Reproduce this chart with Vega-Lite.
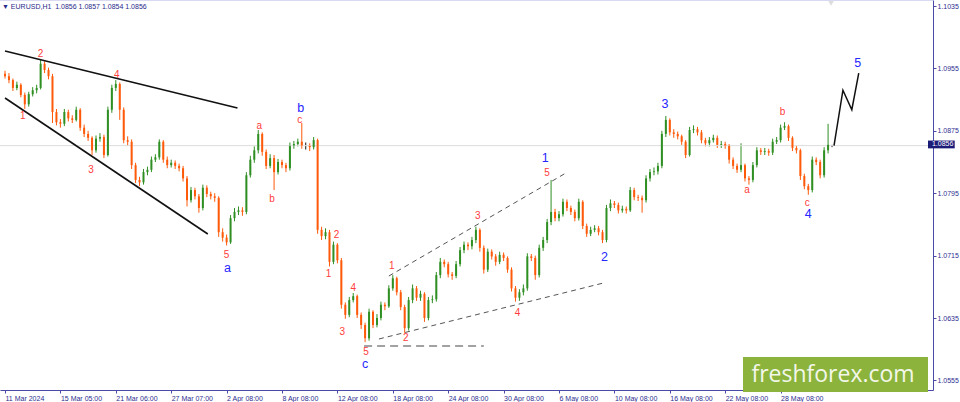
{
  "$schema": "https://vega.github.io/schema/vega-lite/v6.json",
  "width": 933,
  "height": 390,
  "autosize": "none",
  "padding": {"left": 0, "top": 0, "right": 27, "bottom": 12},
  "background": "white",
  "config": {"view": {"stroke": null}, "axis": {"title": null, "grid": false}},
  "title": {
    "text": "▼ EURUSD,H1\u00a0 1.0856 1.0857 1.0854 1.0856",
    "anchor": "start", "frame": "group", "orient": "top", "offset": -10, "dx": 2,
    "font": "Liberation Sans", "fontSize": 7, "fontWeight": "normal", "color": "#2a2a8a"
  },
  "datasets": {
    "candles": [
      {"t":0,"o":1.0948,"h":1.0952,"l":1.0942,"c":1.0945},
      {"t":4,"o":1.0945,"h":1.0949,"l":1.0936,"c":1.0940},
      {"t":8,"o":1.0940,"h":1.0942,"l":1.0926,"c":1.0930},
      {"t":12,"o":1.0930,"h":1.0938,"l":1.0927,"c":1.0934},
      {"t":16,"o":1.0934,"h":1.0936,"l":1.0918,"c":1.0921},
      {"t":20,"o":1.0921,"h":1.0924,"l":1.0903,"c":1.0909},
      {"t":24,"o":1.0909,"h":1.0925,"l":1.0906,"c":1.0922},
      {"t":28,"o":1.0922,"h":1.0931,"l":1.0919,"c":1.0927},
      {"t":32,"o":1.0927,"h":1.0934,"l":1.0923,"c":1.0930},
      {"t":36,"o":1.0930,"h":1.0966,"l":1.0928,"c":1.0961},
      {"t":40,"o":1.0961,"h":1.0964,"l":1.0949,"c":1.0953},
      {"t":44,"o":1.0953,"h":1.0956,"l":1.0941,"c":1.0945},
      {"t":48,"o":1.0945,"h":1.0948,"l":1.0885,"c":1.0899},
      {"t":52,"o":1.0899,"h":1.0903,"l":1.0882,"c":1.0886},
      {"t":56,"o":1.0886,"h":1.0890,"l":1.0879,"c":1.0884},
      {"t":60,"o":1.0884,"h":1.0903,"l":1.0881,"c":1.0899},
      {"t":64,"o":1.0899,"h":1.0902,"l":1.0887,"c":1.0891},
      {"t":68,"o":1.0891,"h":1.0895,"l":1.0885,"c":1.0889},
      {"t":72,"o":1.0889,"h":1.0906,"l":1.0887,"c":1.0902},
      {"t":76,"o":1.0902,"h":1.0904,"l":1.0875,"c":1.0879},
      {"t":80,"o":1.0879,"h":1.0883,"l":1.0867,"c":1.0871},
      {"t":84,"o":1.0871,"h":1.0875,"l":1.0862,"c":1.0866},
      {"t":88,"o":1.0866,"h":1.0868,"l":1.0844,"c":1.0850},
      {"t":92,"o":1.0850,"h":1.0869,"l":1.0847,"c":1.0865},
      {"t":96,"o":1.0865,"h":1.0872,"l":1.0861,"c":1.0867},
      {"t":100,"o":1.0867,"h":1.0870,"l":1.0840,"c":1.0844},
      {"t":104,"o":1.0844,"h":1.0906,"l":1.0842,"c":1.0902},
      {"t":108,"o":1.0902,"h":1.0934,"l":1.0898,"c":1.0930},
      {"t":112,"o":1.0930,"h":1.0940,"l":1.0926,"c":1.0935},
      {"t":116,"o":1.0935,"h":1.0937,"l":1.0889,"c":1.0902},
      {"t":120,"o":1.0902,"h":1.0905,"l":1.0859,"c":1.0863},
      {"t":124,"o":1.0863,"h":1.0868,"l":1.0856,"c":1.0861},
      {"t":128,"o":1.0861,"h":1.0864,"l":1.0826,"c":1.0831},
      {"t":132,"o":1.0831,"h":1.0834,"l":1.0808,"c":1.0812},
      {"t":136,"o":1.0812,"h":1.0816,"l":1.0804,"c":1.0809},
      {"t":140,"o":1.0809,"h":1.0826,"l":1.0806,"c":1.0822},
      {"t":144,"o":1.0822,"h":1.0829,"l":1.0818,"c":1.0825},
      {"t":148,"o":1.0825,"h":1.0842,"l":1.0822,"c":1.0838},
      {"t":152,"o":1.0838,"h":1.0845,"l":1.0835,"c":1.0841},
      {"t":156,"o":1.0841,"h":1.0864,"l":1.0838,"c":1.0861},
      {"t":160,"o":1.0861,"h":1.0863,"l":1.0834,"c":1.0838},
      {"t":164,"o":1.0838,"h":1.0842,"l":1.0827,"c":1.0831},
      {"t":168,"o":1.0831,"h":1.0838,"l":1.0828,"c":1.0834},
      {"t":172,"o":1.0834,"h":1.0837,"l":1.0826,"c":1.0830},
      {"t":176,"o":1.0830,"h":1.0833,"l":1.0823,"c":1.0827},
      {"t":180,"o":1.0827,"h":1.0830,"l":1.0810,"c":1.0814},
      {"t":184,"o":1.0814,"h":1.0817,"l":1.0778,"c":1.0786},
      {"t":188,"o":1.0786,"h":1.0803,"l":1.0783,"c":1.0799},
      {"t":192,"o":1.0799,"h":1.0802,"l":1.0787,"c":1.0791},
      {"t":196,"o":1.0791,"h":1.0794,"l":1.0770,"c":1.0776},
      {"t":200,"o":1.0776,"h":1.0806,"l":1.0773,"c":1.0802},
      {"t":204,"o":1.0802,"h":1.0805,"l":1.0790,"c":1.0794},
      {"t":208,"o":1.0794,"h":1.0797,"l":1.0787,"c":1.0791},
      {"t":212,"o":1.0791,"h":1.0795,"l":1.0784,"c":1.0789},
      {"t":216,"o":1.0789,"h":1.0791,"l":1.0739,"c":1.0745},
      {"t":220,"o":1.0745,"h":1.0750,"l":1.0733,"c":1.0738},
      {"t":224,"o":1.0738,"h":1.0742,"l":1.0728,"c":1.0732},
      {"t":228,"o":1.0732,"h":1.0767,"l":1.0730,"c":1.0763},
      {"t":232,"o":1.0763,"h":1.0776,"l":1.0759,"c":1.0771},
      {"t":236,"o":1.0771,"h":1.0778,"l":1.0767,"c":1.0773},
      {"t":240,"o":1.0773,"h":1.0777,"l":1.0766,"c":1.0771},
      {"t":244,"o":1.0771,"h":1.0822,"l":1.0768,"c":1.0818},
      {"t":248,"o":1.0818,"h":1.0843,"l":1.0815,"c":1.0838},
      {"t":252,"o":1.0838,"h":1.0855,"l":1.0834,"c":1.0850},
      {"t":256,"o":1.0850,"h":1.0876,"l":1.0846,"c":1.0871},
      {"t":260,"o":1.0871,"h":1.0873,"l":1.0843,"c":1.0848},
      {"t":264,"o":1.0848,"h":1.0851,"l":1.0826,"c":1.0830},
      {"t":268,"o":1.0830,"h":1.0845,"l":1.0827,"c":1.0840},
      {"t":272,"o":1.0840,"h":1.0844,"l":1.0799,"c":1.0822},
      {"t":276,"o":1.0822,"h":1.0839,"l":1.0819,"c":1.0835},
      {"t":280,"o":1.0835,"h":1.0838,"l":1.0827,"c":1.0831},
      {"t":284,"o":1.0831,"h":1.0834,"l":1.0822,"c":1.0827},
      {"t":288,"o":1.0827,"h":1.0860,"l":1.0824,"c":1.0856},
      {"t":292,"o":1.0856,"h":1.0862,"l":1.0852,"c":1.0858},
      {"t":296,"o":1.0858,"h":1.0865,"l":1.0855,"c":1.0861},
      {"t":300,"o":1.0861,"h":1.0885,"l":1.0852,"c":1.0856},
      {"t":304,"o":1.0856,"h":1.0860,"l":1.0851,"c":1.0856},
      {"t":308,"o":1.0856,"h":1.0859,"l":1.0849,"c":1.0854},
      {"t":312,"o":1.0854,"h":1.0867,"l":1.0851,"c":1.0863},
      {"t":316,"o":1.0863,"h":1.0865,"l":1.0743,"c":1.0748},
      {"t":320,"o":1.0748,"h":1.0752,"l":1.0735,"c":1.0740},
      {"t":324,"o":1.0740,"h":1.0750,"l":1.0736,"c":1.0745},
      {"t":328,"o":1.0745,"h":1.0748,"l":1.0701,"c":1.0707},
      {"t":332,"o":1.0707,"h":1.0733,"l":1.0704,"c":1.0729},
      {"t":336,"o":1.0729,"h":1.0731,"l":1.0705,"c":1.0709},
      {"t":340,"o":1.0709,"h":1.0712,"l":1.0647,"c":1.0652},
      {"t":344,"o":1.0652,"h":1.0655,"l":1.0634,"c":1.0639},
      {"t":348,"o":1.0639,"h":1.0662,"l":1.0636,"c":1.0658},
      {"t":352,"o":1.0658,"h":1.0667,"l":1.0655,"c":1.0663},
      {"t":356,"o":1.0663,"h":1.0665,"l":1.0635,"c":1.0639},
      {"t":360,"o":1.0639,"h":1.0642,"l":1.0621,"c":1.0626},
      {"t":364,"o":1.0626,"h":1.0629,"l":1.0604,"c":1.0609},
      {"t":368,"o":1.0609,"h":1.0647,"l":1.0606,"c":1.0643},
      {"t":372,"o":1.0643,"h":1.0645,"l":1.0622,"c":1.0626},
      {"t":376,"o":1.0626,"h":1.0640,"l":1.0623,"c":1.0635},
      {"t":380,"o":1.0635,"h":1.0656,"l":1.0632,"c":1.0652},
      {"t":384,"o":1.0652,"h":1.0655,"l":1.0645,"c":1.0650},
      {"t":388,"o":1.0650,"h":1.0677,"l":1.0648,"c":1.0673},
      {"t":392,"o":1.0673,"h":1.0690,"l":1.0670,"c":1.0686},
      {"t":396,"o":1.0686,"h":1.0688,"l":1.0664,"c":1.0668},
      {"t":400,"o":1.0668,"h":1.0671,"l":1.0645,"c":1.0649},
      {"t":404,"o":1.0649,"h":1.0652,"l":1.0616,"c":1.0622},
      {"t":408,"o":1.0622,"h":1.0662,"l":1.0619,"c":1.0658},
      {"t":412,"o":1.0658,"h":1.0678,"l":1.0654,"c":1.0673},
      {"t":416,"o":1.0673,"h":1.0676,"l":1.0657,"c":1.0661},
      {"t":420,"o":1.0661,"h":1.0670,"l":1.0657,"c":1.0666},
      {"t":424,"o":1.0666,"h":1.0668,"l":1.0630,"c":1.0635},
      {"t":428,"o":1.0635,"h":1.0662,"l":1.0632,"c":1.0658},
      {"t":432,"o":1.0658,"h":1.0664,"l":1.0654,"c":1.0659},
      {"t":436,"o":1.0659,"h":1.0694,"l":1.0656,"c":1.0690},
      {"t":440,"o":1.0690,"h":1.0712,"l":1.0686,"c":1.0707},
      {"t":444,"o":1.0707,"h":1.0710,"l":1.0700,"c":1.0704},
      {"t":448,"o":1.0704,"h":1.0707,"l":1.0687,"c":1.0691},
      {"t":452,"o":1.0691,"h":1.0694,"l":1.0684,"c":1.0689},
      {"t":456,"o":1.0689,"h":1.0708,"l":1.0686,"c":1.0704},
      {"t":460,"o":1.0704,"h":1.0726,"l":1.0701,"c":1.0722},
      {"t":464,"o":1.0722,"h":1.0733,"l":1.0718,"c":1.0729},
      {"t":468,"o":1.0729,"h":1.0732,"l":1.0722,"c":1.0727},
      {"t":472,"o":1.0727,"h":1.0739,"l":1.0723,"c":1.0735},
      {"t":476,"o":1.0735,"h":1.0752,"l":1.0731,"c":1.0748},
      {"t":480,"o":1.0748,"h":1.0750,"l":1.0720,"c":1.0725},
      {"t":484,"o":1.0725,"h":1.0728,"l":1.0692,"c":1.0697},
      {"t":488,"o":1.0697,"h":1.0724,"l":1.0694,"c":1.0720},
      {"t":492,"o":1.0720,"h":1.0723,"l":1.0710,"c":1.0714},
      {"t":496,"o":1.0714,"h":1.0717,"l":1.0702,"c":1.0707},
      {"t":500,"o":1.0707,"h":1.0720,"l":1.0704,"c":1.0716},
      {"t":504,"o":1.0716,"h":1.0719,"l":1.0708,"c":1.0712},
      {"t":508,"o":1.0712,"h":1.0714,"l":1.0693,"c":1.0697},
      {"t":512,"o":1.0697,"h":1.0700,"l":1.0669,"c":1.0673},
      {"t":516,"o":1.0673,"h":1.0676,"l":1.0656,"c":1.0661},
      {"t":520,"o":1.0661,"h":1.0672,"l":1.0657,"c":1.0668},
      {"t":524,"o":1.0668,"h":1.0678,"l":1.0664,"c":1.0673},
      {"t":528,"o":1.0673,"h":1.0718,"l":1.0670,"c":1.0714},
      {"t":532,"o":1.0714,"h":1.0717,"l":1.0708,"c":1.0712},
      {"t":536,"o":1.0712,"h":1.0715,"l":1.0684,"c":1.0690},
      {"t":540,"o":1.0690,"h":1.0729,"l":1.0687,"c":1.0725},
      {"t":544,"o":1.0725,"h":1.0739,"l":1.0721,"c":1.0735},
      {"t":548,"o":1.0735,"h":1.0762,"l":1.0731,"c":1.0758},
      {"t":552,"o":1.0758,"h":1.0812,"l":1.0754,"c":1.0771},
      {"t":556,"o":1.0771,"h":1.0775,"l":1.0759,"c":1.0763},
      {"t":560,"o":1.0763,"h":1.0772,"l":1.0759,"c":1.0768},
      {"t":564,"o":1.0768,"h":1.0788,"l":1.0765,"c":1.0784},
      {"t":568,"o":1.0784,"h":1.0787,"l":1.0772,"c":1.0776},
      {"t":572,"o":1.0776,"h":1.0779,"l":1.0767,"c":1.0771},
      {"t":576,"o":1.0771,"h":1.0774,"l":1.0759,"c":1.0763},
      {"t":580,"o":1.0763,"h":1.0788,"l":1.0760,"c":1.0784},
      {"t":584,"o":1.0784,"h":1.0786,"l":1.0749,"c":1.0753},
      {"t":588,"o":1.0753,"h":1.0756,"l":1.0739,"c":1.0743},
      {"t":592,"o":1.0743,"h":1.0752,"l":1.0740,"c":1.0748},
      {"t":596,"o":1.0748,"h":1.0754,"l":1.0745,"c":1.0750},
      {"t":600,"o":1.0750,"h":1.0753,"l":1.0741,"c":1.0745},
      {"t":604,"o":1.0745,"h":1.0748,"l":1.0731,"c":1.0735},
      {"t":608,"o":1.0735,"h":1.0780,"l":1.0732,"c":1.0776},
      {"t":612,"o":1.0776,"h":1.0787,"l":1.0772,"c":1.0782},
      {"t":616,"o":1.0782,"h":1.0785,"l":1.0776,"c":1.0780},
      {"t":620,"o":1.0780,"h":1.0783,"l":1.0769,"c":1.0773},
      {"t":624,"o":1.0773,"h":1.0779,"l":1.0770,"c":1.0775},
      {"t":628,"o":1.0775,"h":1.0778,"l":1.0769,"c":1.0773},
      {"t":632,"o":1.0773,"h":1.0803,"l":1.0771,"c":1.0799},
      {"t":636,"o":1.0799,"h":1.0802,"l":1.0786,"c":1.0790},
      {"t":640,"o":1.0790,"h":1.0793,"l":1.0785,"c":1.0789},
      {"t":644,"o":1.0789,"h":1.0792,"l":1.0770,"c":1.0786},
      {"t":648,"o":1.0786,"h":1.0818,"l":1.0783,"c":1.0814},
      {"t":652,"o":1.0814,"h":1.0826,"l":1.0810,"c":1.0822},
      {"t":656,"o":1.0822,"h":1.0828,"l":1.0818,"c":1.0823},
      {"t":660,"o":1.0823,"h":1.0834,"l":1.0819,"c":1.0830},
      {"t":664,"o":1.0830,"h":1.0875,"l":1.0827,"c":1.0871},
      {"t":668,"o":1.0871,"h":1.0894,"l":1.0867,"c":1.0889},
      {"t":672,"o":1.0889,"h":1.0891,"l":1.0869,"c":1.0873},
      {"t":676,"o":1.0873,"h":1.0877,"l":1.0866,"c":1.0871},
      {"t":680,"o":1.0871,"h":1.0874,"l":1.0864,"c":1.0868},
      {"t":684,"o":1.0868,"h":1.0870,"l":1.0857,"c":1.0861},
      {"t":688,"o":1.0861,"h":1.0863,"l":1.0840,"c":1.0844},
      {"t":692,"o":1.0844,"h":1.0880,"l":1.0842,"c":1.0876},
      {"t":696,"o":1.0876,"h":1.0882,"l":1.0872,"c":1.0877},
      {"t":700,"o":1.0877,"h":1.0880,"l":1.0869,"c":1.0873},
      {"t":704,"o":1.0873,"h":1.0876,"l":1.0859,"c":1.0863},
      {"t":708,"o":1.0863,"h":1.0866,"l":1.0855,"c":1.0859},
      {"t":712,"o":1.0859,"h":1.0867,"l":1.0855,"c":1.0863},
      {"t":716,"o":1.0863,"h":1.0870,"l":1.0860,"c":1.0866},
      {"t":720,"o":1.0866,"h":1.0869,"l":1.0853,"c":1.0857},
      {"t":724,"o":1.0857,"h":1.0862,"l":1.0853,"c":1.0858},
      {"t":728,"o":1.0858,"h":1.0861,"l":1.0852,"c":1.0856},
      {"t":732,"o":1.0856,"h":1.0858,"l":1.0833,"c":1.0838},
      {"t":736,"o":1.0838,"h":1.0841,"l":1.0826,"c":1.0830},
      {"t":740,"o":1.0830,"h":1.0833,"l":1.0821,"c":1.0825},
      {"t":744,"o":1.0825,"h":1.0859,"l":1.0822,"c":1.0831},
      {"t":748,"o":1.0831,"h":1.0833,"l":1.0810,"c":1.0814},
      {"t":752,"o":1.0814,"h":1.0817,"l":1.0806,"c":1.0812},
      {"t":756,"o":1.0812,"h":1.0835,"l":1.0809,"c":1.0831},
      {"t":760,"o":1.0831,"h":1.0854,"l":1.0828,"c":1.0850},
      {"t":764,"o":1.0850,"h":1.0853,"l":1.0844,"c":1.0848},
      {"t":768,"o":1.0848,"h":1.0853,"l":1.0844,"c":1.0849},
      {"t":772,"o":1.0849,"h":1.0852,"l":1.0843,"c":1.0847},
      {"t":776,"o":1.0847,"h":1.0865,"l":1.0844,"c":1.0861},
      {"t":780,"o":1.0861,"h":1.0867,"l":1.0858,"c":1.0863},
      {"t":784,"o":1.0863,"h":1.0883,"l":1.0860,"c":1.0879},
      {"t":788,"o":1.0879,"h":1.0886,"l":1.0876,"c":1.0881},
      {"t":792,"o":1.0881,"h":1.0883,"l":1.0862,"c":1.0866},
      {"t":796,"o":1.0866,"h":1.0868,"l":1.0849,"c":1.0853},
      {"t":800,"o":1.0853,"h":1.0856,"l":1.0846,"c":1.0850},
      {"t":804,"o":1.0850,"h":1.0852,"l":1.0812,"c":1.0817},
      {"t":808,"o":1.0817,"h":1.0820,"l":1.0800,"c":1.0804},
      {"t":812,"o":1.0804,"h":1.0807,"l":1.0793,"c":1.0799},
      {"t":816,"o":1.0799,"h":1.0842,"l":1.0796,"c":1.0838},
      {"t":820,"o":1.0838,"h":1.0841,"l":1.0831,"c":1.0835},
      {"t":824,"o":1.0835,"h":1.0838,"l":1.0814,"c":1.0818},
      {"t":828,"o":1.0818,"h":1.0854,"l":1.0815,"c":1.0850},
      {"t":832,"o":1.0850,"h":1.0884,"l":1.0846,"c":1.0857},
      {"t":836,"o":1.0856,"h":1.0857,"l":1.0854,"c":1.0856}
    ],
    "wedge": [
      {"g":"u","t":0,"p":1.09773},{"g":"u","t":235,"p":1.09042},
      {"g":"d","t":0,"p":1.09171},{"g":"d","t":205,"p":1.07427}
    ],
    "diag": [
      {"g":"u","t":388,"p":1.06888},{"g":"u","t":567,"p":1.08209},
      {"g":"d","t":378,"p":1.06081},{"g":"d","t":605,"p":1.06799}
    ],
    "flat": [
      {"t":363,"p":1.05991},{"t":484,"p":1.05991}
    ],
    "proj": [
      {"t":838,"p":1.0856},{"t":847,"p":1.0927},{"t":856,"p":1.0902},{"t":863,"p":1.0949}
    ],
    "red": [
      {"t":18,"p":1.0894,"s":"1"},{"t":36,"p":1.09735,"s":"2"},{"t":87,"p":1.08248,"s":"3"},
      {"t":113,"p":1.09465,"s":"4"},{"t":224,"p":1.07158,"s":"5"},{"t":257,"p":1.08811,"s":"a"},
      {"t":270,"p":1.07876,"s":"b"},{"t":298,"p":1.08888,"s":"c"},{"t":327,"p":1.06914,"s":"1"},
      {"t":335,"p":1.07414,"s":"2"},{"t":341,"p":1.06171,"s":"3"},{"t":352,"p":1.06735,"s":"4"},
      {"t":365,"p":1.05915,"s":"5"},{"t":391,"p":1.07017,"s":"1"},{"t":405,"p":1.06094,"s":"2"},
      {"t":478,"p":1.07658,"s":"3"},{"t":518,"p":1.06414,"s":"4"},{"t":548,"p":1.08209,"s":"5"},
      {"t":750,"p":1.07991,"s":"a"},{"t":786,"p":1.08991,"s":"b"},{"t":811,"p":1.07824,"s":"c"}
    ],
    "blue": [
      {"t":225,"p":1.06991,"s":"a"},{"t":299,"p":1.09042,"s":"b"},{"t":364,"p":1.05760,"s":"c"},
      {"t":546,"p":1.08401,"s":"1"},{"t":606,"p":1.07132,"s":"2"},{"t":667,"p":1.09094,"s":"3"},
      {"t":812,"p":1.07683,"s":"4"},{"t":862,"p":1.09619,"s":"5"}
    ]
  },
  "layer": [
    {
      "data": {"name": "candles"},
      "mark": {"type": "rule", "strokeWidth": 1},
      "encoding": {
        "x": {"field": "t", "type": "quantitative", "scale": {"domain": [0, 933], "nice": false, "zero": false},
          "axis": {"orient": "bottom", "title": null, "grid": false,
            "values": [0, 56, 112, 168, 224, 280, 336, 392, 448, 504, 560, 616, 672, 728, 784],
            "labelExpr": "['11 Mar 2024','15 Mar 05:00','21 Mar 06:00','27 Mar 07:00','2 Apr 08:00','8 Apr 08:00','12 Apr 08:00','18 Apr 08:00','24 Apr 08:00','30 Apr 08:00','6 May 08:00','10 May 08:00','16 May 08:00','22 May 08:00','28 May 08:00'][round(datum.value/56)]",
            "labelAlign": "left", "labelBaseline": "top", "labelPadding": 1, "labelOverlap": false, "labelFlush": false,
            "labelFont": "Liberation Sans", "labelFontSize": 7, "labelColor": "#2e2e90",
            "domainColor": "#4a4aa6", "tickColor": "#4a4aa6", "tickSize": 3}},
        "y": {"field": "l", "type": "quantitative", "scale": {"domain": [1.05427, 1.10427], "nice": false, "zero": false},
          "axis": {"orient": "right", "title": null, "grid": false,
            "values": [1.0555, 1.0595, 1.0635, 1.0675, 1.0715, 1.0755, 1.0795, 1.0835, 1.0875, 1.0915, 1.0955, 1.0995, 1.1035],
            "format": ".4f", "labelAlign": "left", "labelPadding": 1, "labelOverlap": false, "labelFlush": false,
            "labelFont": "Liberation Sans", "labelFontSize": 7, "labelColor": "#2e2e90",
            "domainColor": "#4a4aa6", "tickColor": "#4a4aa6", "tickSize": 3}},
        "y2": {"field": "h"},
        "color": {"condition": [{"test": "datum.c > datum.o", "value": "#2f8f23"}, {"test": "datum.c < datum.o", "value": "#ff5a0a"}], "value": "#111111"}
      }
    },
    {
      "data": {"name": "flat"},
      "transform": [{"filter": "datum.t == 363"}],
      "mark": {"type": "rule", "color": "#b4b4e4", "strokeWidth": 1},
      "encoding": {
        "y": {"datum": 1.10427, "type": "quantitative"}
      }
    },
    {
      "data": {"name": "flat"},
      "transform": [{"filter": "datum.t == 363"}],
      "mark": {"type": "rule", "color": "#dcdcdc", "strokeWidth": 1, "zindex": 0},
      "encoding": {
        "y": {"datum": 1.0856, "type": "quantitative"}
      }
    },
    {
      "data": {"name": "wedge"},
      "mark": {"type": "line", "color": "#111111", "strokeWidth": 1.6},
      "encoding": {
        "x": {"field": "t", "type": "quantitative"},
        "y": {"field": "p", "type": "quantitative"},
        "detail": {"field": "g"}
      }
    },
    {
      "data": {"name": "diag"},
      "mark": {"type": "line", "color": "#555555", "strokeWidth": 1, "strokeDash": [5, 4]},
      "encoding": {
        "x": {"field": "t", "type": "quantitative"},
        "y": {"field": "p", "type": "quantitative"},
        "detail": {"field": "g"}
      }
    },
    {
      "data": {"name": "flat"},
      "mark": {"type": "line", "color": "#444444", "strokeWidth": 1, "strokeDash": [8, 5]},
      "encoding": {
        "x": {"field": "t", "type": "quantitative"},
        "y": {"field": "p", "type": "quantitative"}
      }
    },
    {
      "data": {"name": "candles"},
      "mark": {"type": "bar", "width": 2},
      "encoding": {
        "x": {"field": "t", "type": "quantitative"},
        "y": {"field": "o", "type": "quantitative"},
        "y2": {"field": "c"},
        "color": {"condition": [{"test": "datum.c > datum.o", "value": "#2f8f23"}, {"test": "datum.c < datum.o", "value": "#ff5a0a"}], "value": "#111111"}
      }
    },
    {
      "data": {"name": "proj"},
      "mark": {"type": "line", "color": "#111111", "strokeWidth": 1.5},
      "encoding": {
        "x": {"field": "t", "type": "quantitative"},
        "y": {"field": "p", "type": "quantitative"}
      }
    },
    {
      "data": {"name": "red"},
      "mark": {"type": "text", "color": "#ff3c3c", "font": "Liberation Sans", "fontSize": 10, "baseline": "middle", "align": "center"},
      "encoding": {
        "x": {"field": "t", "type": "quantitative"},
        "y": {"field": "p", "type": "quantitative"},
        "text": {"field": "s"}
      }
    },
    {
      "data": {"name": "blue"},
      "mark": {"type": "text", "color": "#2626ff", "font": "Liberation Sans", "fontSize": 12.5, "baseline": "middle", "align": "center"},
      "encoding": {
        "x": {"field": "t", "type": "quantitative"},
        "y": {"field": "p", "type": "quantitative"},
        "text": {"field": "s"}
      }
    },
    {
      "data": {"name": "flat"},
      "transform": [{"filter": "datum.t == 363"}],
      "mark": {"type": "rect", "color": "#1b1b78"},
      "encoding": {
        "x": {"datum": 933, "type": "quantitative"},
        "x2": {"datum": 960},
        "y": {"datum": 1.08625, "type": "quantitative"},
        "y2": {"datum": 1.08525}
      }
    },
    {
      "data": {"name": "flat"},
      "transform": [{"filter": "datum.t == 363"}],
      "mark": {"type": "text", "color": "white", "font": "Liberation Sans", "fontSize": 7, "align": "left", "baseline": "middle", "text": "1.0856"},
      "encoding": {
        "x": {"datum": 937, "type": "quantitative"},
        "y": {"datum": 1.08575, "type": "quantitative"}
      }
    },
    {
      "data": {"name": "flat"},
      "transform": [{"filter": "datum.t == 363"}],
      "mark": {"type": "rect", "color": "#8cb43c"},
      "encoding": {
        "x": {"datum": 746, "type": "quantitative"},
        "x2": {"datum": 933},
        "y": {"datum": 1.0585, "type": "quantitative"},
        "y2": {"datum": 1.05401}
      }
    },
    {
      "data": {"name": "flat"},
      "transform": [{"filter": "datum.t == 363"}],
      "mark": {"type": "text", "color": "#f3f7ea", "font": "Open Sans", "fontSize": 23, "align": "center", "baseline": "alphabetic", "text": "freshforex.com"},
      "encoding": {
        "x": {"datum": 837, "type": "quantitative"},
        "y": {"datum": 1.05533, "type": "quantitative"}
      }
    },
    {
      "data": {"name": "flat"},
      "transform": [{"filter": "datum.t == 363"}],
      "mark": {"type": "point", "shape": "triangle-down", "filled": true, "color": "#cfcfcf", "size": 30},
      "encoding": {
        "x": {"datum": 835, "type": "quantitative"},
        "y": {"datum": 1.10385, "type": "quantitative"}
      }
    }
  ]
}
